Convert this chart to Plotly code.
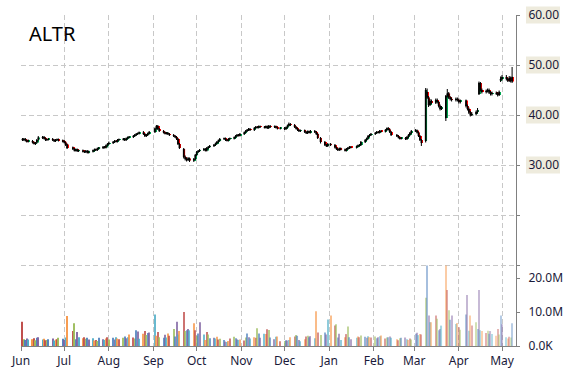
import pandas as pd
import plotly.graph_objects as go

symbol = "ALTR"
holidays = ["2014-07-04", "2014-09-01", "2014-11-27", "2014-12-25",
            "2015-01-01", "2015-01-19", "2015-02-16", "2015-04-03"]
dates = [d for d in pd.bdate_range("2014-06-02", "2015-05-08")
         if d.strftime("%Y-%m-%d") not in holidays]

opens = [
    35.2, 35.0, 35.2, 34.9, 34.7,  34.8, 34.5, 34.2, 34.5, 35.1,
    35.4, 35.6, 35.3, 35.0, 35.1,  35.2, 35.0, 34.8, 35.0, 35.1,
    34.9, 34.8, 34.5, 34.1,        33.5, 33.2, 32.9, 33.1, 32.8,
    32.9, 32.7, 32.6, 32.8, 32.5,  32.7, 32.9, 33.1, 33.0, 33.3,
    33.4, 33.6, 33.5, 33.9, 34.2,  34.4, 34.6, 34.8, 34.7, 35.0,
    35.1, 35.2, 35.0, 35.3, 35.5,  35.6, 35.8, 36.0, 36.2, 36.3,
    36.5, 36.2, 35.8, 36.0, 36.3,  36.6, 37.3, 37.8, 37.2,
    36.8, 36.5, 36.3, 36.4, 36.2,  36.0, 35.8, 35.6, 35.2, 34.2,
    33.2, 31.6, 31.2, 31.0, 31.3,  30.9, 31.2, 32.0, 32.6, 32.8,
    33.0, 33.2, 32.9, 33.4, 33.6,  33.8, 34.0, 34.3, 34.6, 34.9,
    35.2, 35.3, 35.0, 34.9, 35.2,  35.3, 35.5, 35.8, 36.0, 35.9,
    36.2, 36.5, 36.8, 37.0, 37.2,  37.0, 37.4, 37.6, 37.5, 37.7,
    37.6, 37.5, 37.7, 37.4, 37.8,  37.6, 37.7, 37.5, 37.3,
    37.4, 37.2, 37.5, 37.9, 38.2,  38.0, 37.6, 37.3, 37.0, 36.8,
    36.9, 36.6, 36.4, 36.7, 36.5,  36.8, 36.6, 36.2, 35.4,
    34.6, 34.0, 33.8, 34.2,        34.0, 33.5, 33.2, 33.0, 33.3,
    33.1, 32.9, 33.2, 33.4, 33.6,  33.5, 33.7, 33.9, 34.0,
    34.6, 35.0, 35.3, 35.8, 36.0,  36.2, 36.4, 36.6, 36.5, 36.8,
    36.7, 37.0, 37.3, 37.1, 36.6,  36.0, 35.8, 35.5, 35.3,
    35.4, 35.2, 35.6, 36.0, 36.4,  36.8, 36.9, 36.5, 35.8, 35.0,
    34.8, 44.6, 43.5, 42.0, 42.8,  42.5, 43.0, 42.6, 41.8, 41.2,
    39.4, 43.8, 44.3, 43.5, 43.2,  43.0, 43.2, 43.0, 42.6,
    42.9, 41.8, 41.2, 40.5, 40.0,  40.2, 40.6, 44.2, 46.4, 45.0,
    44.6, 44.8, 45.0, 44.5, 44.2,  44.4, 44.3, 44.0, 46.9, 47.2,
    47.6, 47.2, 46.9, 47.4, 47.6,
]
highs = [
    35.4, 35.4, 35.4, 35.1, 35.1,  35.0, 34.7, 34.6, 35.2, 35.8,
    35.8, 35.8, 35.5, 35.3, 35.4,  35.4, 35.2, 35.2, 35.3, 35.3,
    35.1, 35.0, 34.7, 34.3,        33.7, 33.4, 33.3, 33.3, 33.1,
    33.1, 32.9, 33.0, 33.0, 32.9,  33.1, 33.3, 33.3, 33.5, 33.6,
    33.8, 33.8, 34.1, 34.4, 34.7,  34.8, 35.0, 35.0, 35.2, 35.3,
    35.4, 35.4, 35.5, 35.7, 35.8,  36.0, 36.2, 36.4, 36.5, 36.7,
    36.8, 36.4, 36.2, 36.5, 36.8,  37.5, 38.0, 38.0, 37.4,
    37.0, 36.7, 36.6, 36.6, 36.4,  36.2, 36.0, 35.8, 35.4, 34.4,
    33.4, 31.9, 31.5, 31.6, 31.5,  31.4, 32.2, 32.8, 33.0, 33.2,
    33.4, 33.4, 33.6, 33.8, 34.0,  34.2, 34.5, 34.8, 35.1, 35.4,
    35.5, 35.5, 35.2, 35.4, 35.5,  35.7, 36.0, 36.2, 36.2, 36.4,
    36.7, 37.0, 37.2, 37.4, 37.4,  37.6, 37.8, 37.8, 37.9, 37.9,
    37.8, 37.9, 37.9, 38.0, 38.0,  37.9, 37.9, 37.7, 37.6,
    37.6, 37.7, 38.1, 38.5, 38.4,  38.2, 37.8, 37.5, 37.2, 37.1,
    37.1, 36.8, 36.9, 36.9, 37.0,  37.0, 36.8, 36.4, 35.6,
    34.8, 34.2, 34.4, 34.4,        34.2, 33.7, 33.4, 33.5, 33.5,
    33.3, 33.4, 33.6, 33.8, 33.8,  33.9, 34.1, 34.2, 34.8,
    35.2, 35.5, 36.0, 36.2, 36.4,  36.6, 36.8, 36.8, 37.0, 37.0,
    37.2, 37.5, 37.6, 37.3, 36.8,  36.2, 36.0, 35.7, 35.6,
    35.6, 35.8, 36.2, 36.6, 37.0,  37.2, 37.1, 36.7, 36.0, 35.2,
    45.4, 45.3, 43.8, 43.2, 43.1,  43.3, 43.3, 42.8, 42.1, 41.8,
    44.0, 45.2, 44.6, 43.8, 43.5,  43.5, 43.5, 43.3, 43.1,
    43.1, 42.1, 41.5, 40.8, 40.6,  40.9, 41.4, 46.7, 46.6, 45.3,
    45.1, 45.3, 45.3, 44.8, 44.7,  44.7, 44.6, 44.9, 47.7, 48.0,
    48.0, 47.5, 47.8, 47.7, 49.6,
]
lows = [
    34.8, 34.8, 34.7, 34.5, 34.5,  34.3, 34.1, 34.0, 34.3, 34.9,
    35.2, 35.1, 34.8, 34.8, 34.9,  34.8, 34.6, 34.6, 34.8, 34.7,
    34.5, 34.3, 33.8, 33.2,        33.0, 32.7, 32.7, 32.6, 32.6,
    32.5, 32.4, 32.4, 32.3, 32.3,  32.5, 32.7, 32.8, 32.8, 33.1,
    33.2, 33.3, 33.3, 33.7, 34.0,  34.2, 34.4, 34.5, 34.5, 34.8,
    34.9, 34.8, 34.8, 35.1, 35.3,  35.4, 35.6, 35.8, 36.0, 36.1,
    36.0, 35.6, 35.6, 35.8, 36.1,  36.4, 37.1, 37.0, 36.6,
    36.3, 36.1, 36.1, 36.0, 35.8,  35.6, 35.4, 35.0, 34.0, 33.2,
    31.3, 30.9, 30.7, 30.8, 30.6,  30.6, 31.0, 31.8, 32.4, 32.6,
    32.8, 32.7, 32.7, 33.2, 33.4,  33.6, 33.8, 34.1, 34.4, 34.7,
    35.0, 34.8, 34.7, 34.7, 35.0,  35.1, 35.3, 35.6, 35.7, 35.7,
    36.0, 36.3, 36.6, 36.8, 36.8,  36.8, 37.2, 37.3, 37.3, 37.4,
    37.3, 37.3, 37.2, 37.2, 37.4,  37.4, 37.3, 37.1, 37.1,
    37.0, 37.0, 37.3, 37.7, 37.8,  37.4, 37.1, 36.8, 36.6, 36.6,
    36.4, 36.2, 36.2, 36.3, 36.3,  36.4, 36.0, 35.2, 34.3,
    33.8, 33.6, 33.6, 33.8,        33.3, 33.0, 32.8, 32.8, 32.9,
    32.7, 32.7, 33.0, 33.2, 33.3,  33.3, 33.5, 33.7, 33.8,
    34.4, 34.8, 35.1, 35.6, 35.8,  36.0, 36.2, 36.3, 36.3, 36.5,
    36.5, 36.8, 36.9, 36.4, 35.8,  35.6, 35.3, 35.1, 35.1,
    35.0, 35.0, 35.4, 35.8, 36.2,  36.6, 36.3, 35.6, 34.8, 33.8,
    34.5, 43.2, 41.6, 41.8, 42.2,  42.2, 42.3, 41.5, 40.9, 41.0,
    38.8, 43.5, 43.2, 42.9, 42.7,  42.7, 42.7, 42.3, 42.3,
    41.5, 40.9, 40.2, 39.7, 39.8,  39.9, 40.3, 44.0, 44.7, 44.3,
    44.3, 44.5, 44.2, 43.9, 43.9,  44.0, 43.7, 43.8, 46.6, 46.9,
    46.9, 46.6, 46.6, 46.5, 46.4,
]
closes = [
    35.0, 35.2, 34.9, 34.7, 34.9,  34.5, 34.3, 34.4, 35.0, 35.5,
    35.6, 35.3, 35.0, 35.1, 35.2,  35.0, 34.8, 35.0, 35.1, 34.9,
    34.7, 34.5, 34.0, 33.4,        33.2, 32.9, 33.1, 32.8, 32.9,
    32.7, 32.6, 32.8, 32.5, 32.7,  32.9, 33.1, 33.0, 33.3, 33.4,
    33.6, 33.5, 33.9, 34.2, 34.4,  34.6, 34.8, 34.7, 35.0, 35.1,
    35.2, 35.0, 35.3, 35.5, 35.6,  35.8, 36.0, 36.2, 36.3, 36.5,
    36.2, 35.8, 36.0, 36.3, 36.6,  37.3, 37.8, 37.2, 36.8,
    36.5, 36.3, 36.4, 36.2, 36.0,  35.8, 35.6, 35.2, 34.2, 33.4,
    31.6, 31.2, 31.0, 31.3, 30.9,  31.2, 32.0, 32.6, 32.8, 33.0,
    33.2, 32.9, 33.4, 33.6, 33.8,  34.0, 34.3, 34.6, 34.9, 35.2,
    35.3, 35.0, 34.9, 35.2, 35.3,  35.5, 35.8, 36.0, 35.9, 36.2,
    36.5, 36.8, 37.0, 37.2, 37.0,  37.4, 37.6, 37.5, 37.7, 37.6,
    37.5, 37.7, 37.4, 37.8, 37.6,  37.7, 37.5, 37.3, 37.4,
    37.2, 37.5, 37.9, 38.2, 38.0,  37.6, 37.3, 37.0, 36.8, 36.9,
    36.6, 36.4, 36.7, 36.5, 36.8,  36.6, 36.2, 35.4, 34.6,
    34.0, 33.8, 34.2, 34.0,        33.5, 33.2, 33.0, 33.3, 33.1,
    32.9, 33.2, 33.4, 33.6, 33.5,  33.7, 33.9, 34.0, 34.6,
    35.0, 35.3, 35.8, 36.0, 36.2,  36.4, 36.6, 36.5, 36.8, 36.7,
    37.0, 37.3, 37.1, 36.6, 36.0,  35.8, 35.5, 35.3, 35.4,
    35.2, 35.6, 36.0, 36.4, 36.8,  36.9, 36.5, 35.8, 35.0, 34.4,
    45.0, 43.5, 42.0, 42.8, 42.5,  43.0, 42.6, 41.8, 41.2, 41.5,
    43.8, 44.3, 43.5, 43.2, 43.0,  43.2, 43.0, 42.6, 42.9,
    41.8, 41.2, 40.5, 40.0, 40.2,  40.6, 41.0, 46.4, 45.0, 44.6,
    44.8, 45.0, 44.5, 44.2, 44.4,  44.3, 44.0, 44.6, 47.2, 47.6,
    47.2, 46.9, 47.4, 46.8, 46.7,
]
volumes_m = [
    7.1, 2.0, 1.8, 2.2, 1.9,  2.0, 2.3, 1.7, 2.4, 2.6,
    1.9, 2.1, 1.7, 1.8, 2.0,  2.2, 1.6, 1.9, 2.0, 2.4,
    2.1, 1.8, 2.5, 8.8,       4.4, 6.7, 2.0, 4.1, 2.6,
    2.3, 2.6, 2.1, 2.4, 1.9,  2.3, 1.6, 1.8, 1.5, 2.4,
    2.0, 1.8, 2.2, 2.6, 1.9,  2.4, 1.9, 2.6, 2.2, 2.0,
    2.4, 2.8, 2.3, 2.6, 3.4,  2.5, 2.2, 4.6, 4.3, 2.1,
    3.6, 4.4, 3.2, 3.8, 4.0,  9.3, 3.0, 4.1, 2.6,
    2.4, 3.3, 2.5, 3.7, 3.0,  5.0, 2.8, 7.1, 3.4, 4.4,
    10.0, 4.4, 4.6, 5.0, 4.6, 6.7, 4.6, 3.0, 3.7, 7.0,
    3.4, 1.8, 4.1, 3.4, 2.3,  2.4, 2.2, 2.7, 1.9, 2.1,
    1.8, 1.3, 1.2, 1.5, 2.2,  2.7, 2.3, 1.9, 1.8, 1.9,
    1.6, 2.5, 3.7, 2.6, 2.2,  2.6, 2.4, 5.2, 3.7, 2.4,
    3.6, 3.5, 4.9, 4.7, 2.5,  2.0, 2.7, 2.8, 1.4,
    1.5, 1.7, 1.6, 1.8, 2.6,  2.8, 3.2, 3.0, 1.8, 1.4,
    2.0, 2.8, 3.0, 2.6, 2.9,  2.3, 10.2, 4.0, 3.2,
    4.0, 3.4, 7.8, 9.0,       6.0, 6.4, 2.5, 3.6, 1.8,
    2.6, 3.5, 5.7, 2.6, 2.0,  2.4, 2.8, 2.6, 3.1,
    2.7, 2.4, 2.9, 2.6, 2.5,  2.8, 2.3, 2.6, 2.9, 3.1,
    2.2, 2.5, 2.6, 2.8, 2.4,  2.0, 1.7, 2.3, 2.4,
    2.5, 2.0, 1.8, 2.2, 1.9,  3.6, 3.9, 3.2, 3.5, 3.4,
    14.2, 23.7, 9.0, 7.0, 7.0, 9.0, 8.0, 4.6, 5.0, 6.0,
    23.7, 16.5, 10.5, 7.7, 9.0, 6.5, 6.8, 5.5, 4.8,
    9.3, 15.0, 4.5, 9.0, 6.0, 7.0, 5.0, 16.5, 4.6, 4.4,
    3.8, 4.5, 3.6, 4.4, 3.5,  3.0, 5.0, 3.4, 9.0, 6.4,
    2.6, 2.2, 2.7, 2.5, 6.7,
]
month_ticks = ["2014-06-01", "2014-07-01", "2014-08-01", "2014-09-01",
               "2014-10-01", "2014-11-01", "2014-12-01", "2015-01-01",
               "2015-02-01", "2015-03-01", "2015-04-01", "2015-05-01"]
month_labels = ["Jun", "Jul", "Aug", "Sep", "Oct", "Nov", "Dec", "Jan",
                "Feb", "Mar", "Apr", "May"]
price_ticks = [10, 20, 30, 40, 50, 60]
price_labels = ["", "", "30.00", "40.00", "50.00", "60.00"]
volume_ticks = [0, 10e6, 20e6]
volume_labels = ["0.0K", "10.0M", "20.0M"]

n = len(dates)
assert all(len(a) == n for a in (opens, highs, lows, closes, volumes_m)), \
    (n, len(opens), len(highs), len(lows), len(closes), len(volumes_m))

palette = ["#C0504D", "#9BBB59", "#4F81BD", "#8064A2", "#4BACC6", "#F79646"]
vol_colors = [palette[i % len(palette)] for i in range(n)]
vol_opacity = [1.0 - 0.6 * i / (n - 1) for i in range(n)]

body_base = [min(o, c) for o, c in zip(opens, closes)]
body_size = [max(abs(c - o), 0.12) for o, c in zip(opens, closes)]
body_colors = ["#00A650" if c >= o else "#FF0000" for o, c in zip(opens, closes)]

PRICE_RANGE = [-6.2, 60]
VOL_RANGE = [0, 97.35e6]
DAY_MS = 86400000

fig = go.Figure()
fig.add_trace(go.Bar(
    x=dates, y=[v * 1e6 for v in volumes_m], yaxis="y2",
    marker=dict(color=vol_colors, opacity=vol_opacity, line=dict(width=0)),
    width=DAY_MS * 0.75, showlegend=False, hoverinfo="skip",
))
fig.add_trace(go.Candlestick(
    x=dates, open=opens, high=highs, low=lows, close=closes,
    increasing=dict(line=dict(color="black", width=1), fillcolor="black"),
    decreasing=dict(line=dict(color="black", width=1), fillcolor="black"),
    whiskerwidth=0, showlegend=False,
))
fig.add_trace(go.Bar(
    x=dates, y=body_size, base=body_base, yaxis="y",
    marker=dict(color=body_colors, line=dict(width=0)),
    width=DAY_MS * 0.8, offset=DAY_MS * 0.15,
    showlegend=False, hoverinfo="skip",
))

grid = dict(showgrid=True, gridcolor="#C8C8C8", gridwidth=1, griddash="5px,3px")
font_ticks = dict(family="Noto Sans", size=12, color="#1a1a3a")

shapes = []
for v, lab in zip(price_ticks, price_labels):
    if not lab:
        continue
    yc = (v - PRICE_RANGE[0]) / (PRICE_RANGE[1] - PRICE_RANGE[0])
    h = 8.5 / 331
    shapes.append(dict(type="rect", xref="paper", yref="paper",
                       x0=1.0202, x1=1.0889, y0=yc - h, y1=yc + h,
                       fillcolor="#EEEBDD", line=dict(width=0), layer="below"))

fig.update_layout(
    width=570, height=370,
    margin=dict(l=21, r=54, t=15, b=24, autoexpand=False),
    paper_bgcolor="white", plot_bgcolor="white",
    showlegend=False,
    barmode="overlay",
    xaxis=dict(type="date", range=["2014-06-01", "2015-05-10 17:00"],
               tickvals=month_ticks, ticktext=month_labels,
               showline=True, linecolor="#808080", linewidth=1,
               ticks="outside", ticklen=4, tickcolor="#808080",
               tickfont=font_ticks, rangeslider=dict(visible=False),
               zeroline=False, automargin=False, **grid),
    yaxis=dict(side="right", range=PRICE_RANGE,
               tickvals=price_ticks, ticktext=price_labels,
               showline=True, linecolor="#808080", linewidth=1,
               ticks="outside", ticklen=3, tickcolor="#808080",
               tickfont=font_ticks, ticklabelstandoff=6,
               zeroline=False, automargin=False, **grid),
    yaxis2=dict(side="right", overlaying="y", range=VOL_RANGE,
                tickvals=volume_ticks, ticktext=volume_labels,
                showgrid=False, showline=False, zeroline=False,
                ticks="outside", ticklen=3, tickcolor="#808080",
                tickfont=font_ticks, ticklabelstandoff=6, automargin=False),
    shapes=shapes,
    annotations=[dict(text=symbol, xref="paper", yref="paper",
                      x=0.012, y=0.99, xanchor="left", yanchor="top",
                      showarrow=False,
                      font=dict(family="Noto Sans", size=20, color="black"))],
)

fig.write_html("out.html")
